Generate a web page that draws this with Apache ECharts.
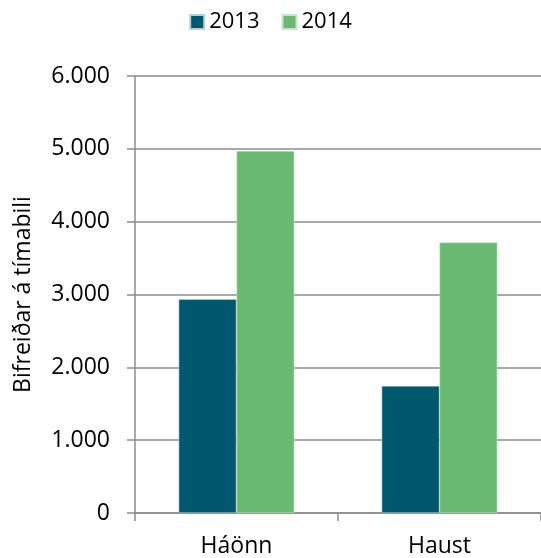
<!DOCTYPE html>
<html>
<head>
<meta charset="utf-8">
<script src="https://cdn.jsdelivr.net/npm/echarts@6/dist/echarts.min.js"></script>
<style>
  html, body { margin: 0; padding: 0; background: #fff; }
  #main { width: 541px; height: 558px; }
</style>
</head>
<body>
<div id="main"></div>
<script>
// gögn
var categories = ['Háönn', 'Haust'];
var seriesNames = ['2013', '2014'];
var values2013 = [2935, 1745];
var values2014 = [4970, 3715];

var chart = echarts.init(document.getElementById('main'));
var fontFam = 'Open Sans, Liberation Sans, sans-serif';
var axisGray = '#8c8c8c';

chart.setOption({
  animation: false,
  textStyle: { fontFamily: fontFam },
  legend: {
    top: 6,
    left: 'center',
    itemWidth: 14,
    itemHeight: 14,
    itemGap: 22,
    icon: 'rect',
    textStyle: { fontSize: 22, color: '#000', fontFamily: fontFam },
    data: seriesNames
  },
  grid: { left: 135, right: 0, top: 76, bottom: 45 },
  xAxis: {
    type: 'category',
    data: categories,
    axisLine: { lineStyle: { color: axisGray, width: 1.5 } },
    axisTick: { show: true, length: 8, alignWithLabel: false, lineStyle: { color: axisGray, width: 1.5 } },
    axisLabel: { fontSize: 23, color: '#000', margin: 22 }
  },
  yAxis: {
    type: 'value',
    min: 0,
    max: 6000,
    interval: 1000,
    name: 'Bifreiðar á tímabili',
    nameLocation: 'middle',
    nameGap: 100,
    nameTextStyle: { fontSize: 23, color: '#000' },
    axisLine: { show: true, lineStyle: { color: axisGray, width: 1.5 } },
    axisTick: { show: true, length: 8, lineStyle: { color: axisGray, width: 1.5 } },
    splitLine: { lineStyle: { color: axisGray, width: 1.5 } },
    axisLabel: {
      fontSize: 23,
      color: '#000',
      margin: 25,
      formatter: function (v) {
        return String(v).replace(/\B(?=(\d{3})+(?!\d))/g, '.');
      }
    }
  },
  series: [
    {
      name: seriesNames[0],
      type: 'bar',
      data: values2013,
      barCategoryGap: '43%',
      barGap: '0%',
      itemStyle: { color: '#00586e', borderColor: '#b9ccd3', borderWidth: 0.6 }
    },
    {
      name: seriesNames[1],
      type: 'bar',
      data: values2014,
      barCategoryGap: '43%',
      barGap: '0%',
      itemStyle: { color: '#6ab972', borderColor: '#c6e5c8', borderWidth: 0.6 }
    }
  ]
});
</script>
</body>
</html>
